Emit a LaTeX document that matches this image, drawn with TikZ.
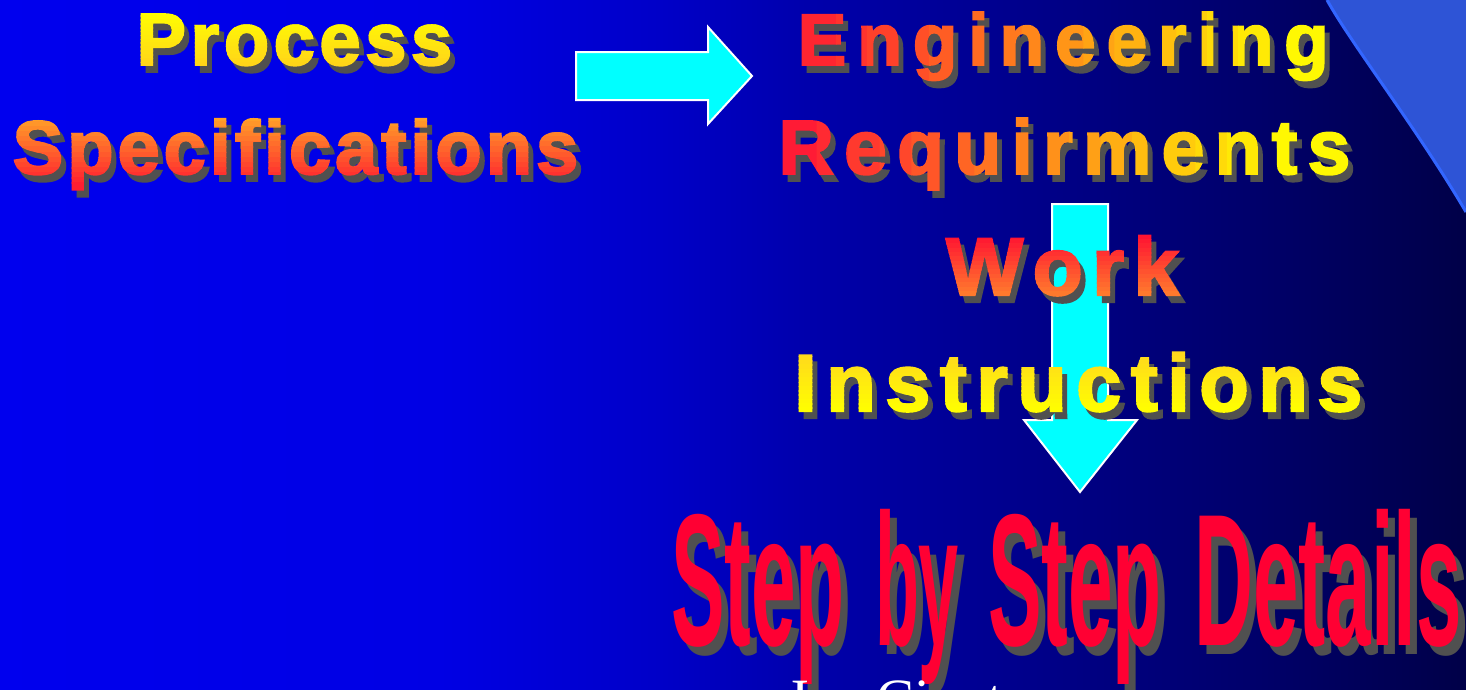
\documentclass[tikz,border=0pt]{standalone}
\usepackage{fontspec}
\setmainfont{Liberation Sans}
\newfontfamily\heavy{Liberation Sans}[BoldFeatures={FakeBold=2.5}]
\newfontfamily\serifname{Liberation Serif}
\usepackage{graphicx}
\usetikzlibrary{calc}
\definecolor{bg0}{RGB}{0,0,238}
\definecolor{bg1}{RGB}{0,0,228}
\definecolor{bg2}{RGB}{0,0,200}
\definecolor{bg3}{RGB}{0,0,172}
\definecolor{bg4}{RGB}{0,0,128}
\definecolor{bg5}{RGB}{0,0,108}
\definecolor{bg6}{RGB}{0,0,72}
\pgfdeclarehorizontalshading{bgsh}{100bp}{color(0bp)=(bg0); color(25bp)=(bg0); color(40bp)=(bg1); color(47.5bp)=(bg2); color(52.5bp)=(bg3); color(62.5bp)=(bg4); color(67.5bp)=(bg5); color(75bp)=(bg6); color(100bp)=(bg6)}
\definecolor{proctop}{RGB}{255,255,0}
\definecolor{procbot}{RGB}{255,212,25}
\definecolor{spectop}{RGB}{255,165,40}
\definecolor{specbot}{RGB}{255,25,48}
\definecolor{engtop}{RGB}{255,30,50}
\definecolor{engbot}{RGB}{255,255,0}
\definecolor{reqtop}{RGB}{255,20,55}
\definecolor{reqbot}{RGB}{255,255,0}
\definecolor{worktop}{RGB}{255,15,50}
\definecolor{workbot}{RGB}{255,125,45}
\definecolor{instop}{RGB}{255,215,30}
\definecolor{insbot}{RGB}{255,255,0}
\definecolor{shadowgray}{RGB}{80,80,80}
\definecolor{bigred}{RGB}{255,0,51}
\definecolor{arrowcyan}{RGB}{0,255,255}
\definecolor{swoosh}{RGB}{46,84,214}
\definecolor{swooshedge}{RGB}{51,102,255}
\makeatletter
\newcommand\trk[2]{\hbox to #1{\@tfor\tch:=#2\do{\tch\hfil}\unskip}}
\makeatother
\newcommand\rbw[2]{\resizebox{#1pt}{\height}{#2}}
\newbox\bxproc
\newbox\bxspec
\newbox\bxeng
\newbox\bxreq
\newbox\bxwork
\newbox\bxins
\newbox\bxbig
\tikzset{
  txt/.style={anchor=base west, inner sep=0pt, outer sep=0pt},
  shd/.style={txt, text=shadowgray},
  blockarrow/.style={fill=arrowcyan, draw=white, line width=2pt, line join=miter},
}
% vertical gradient text: name, content, position, y top, y bottom
\newcommand\vgtext[5]{%
  \node[shd] (#1s) at ($(#3)+(5,7)$) {#2};
  \foreach \i in {0,...,13}{%
    \pgfmathsetmacro\pct{100*(\i+0.5)/14}%
    \pgfmathsetmacro\ya{\i==0 ? -600 : #4+(#5-#4)*\i/14}%
    \pgfmathsetmacro\yb{\i==13 ? 1600 : #4+(#5-#4)*(\i+1)/14+0.6}%
    \begin{scope}
      \clip (-100,\ya) rectangle (1600,\yb);
      \node[txt, text=#1bot!\pct!#1top] (#1\i) at (#3) {#2};
    \end{scope}}}
% horizontal gradient text: name, content, position, x left, x right
\newcommand\hgtext[5]{%
  \node[shd] (#1s) at ($(#3)+(5,7)$) {#2};
  \foreach \i in {0,...,15}{%
    \pgfmathsetmacro\pct{100*(\i+0.5)/16}%
    \pgfmathsetmacro\xa{\i==0 ? -600 : #4+(#5-#4)*\i/16}%
    \pgfmathsetmacro\xb{\i==15 ? 2000 : #4+(#5-#4)*(\i+1)/16+0.6}%
    \begin{scope}
      \clip (\xa,-100) rectangle (\xb,900);
      \node[txt, text=#1bot!\pct!#1top] (#1\i) at (#3) {#2};
    \end{scope}}}
\begin{document}
\setbox\bxproc\hbox{\heavy\fontsize{74}{80}\selectfont\bfseries\trk{315.6pt}{Process}}%
\setbox\bxspec\hbox{\heavy\fontsize{76}{80}\selectfont\bfseries\trk{565.7pt}{Specifications}}%
\setbox\bxeng\hbox{\heavy\fontsize{73}{80}\selectfont\bfseries\trk{531pt}{Engineering}}%
\setbox\bxreq\hbox{\heavy\fontsize{77}{80}\selectfont\bfseries\trk{572pt}{Requirments}}%
\setbox\bxwork\hbox{\heavy\fontsize{82}{90}\selectfont\bfseries\trk{233pt}{Work}}%
\setbox\bxins\hbox{\heavy\fontsize{81}{90}\selectfont\bfseries\trk{568pt}{Instructions}}%
\setbox\bxbig\hbox{\fontsize{188}{190}\selectfont\bfseries
  \rbw{174}{Step}\kern30pt\rbw{84}{by}\kern29pt\rbw{174}{Step}\kern32pt\rbw{268}{Details}}%
\begin{tikzpicture}[x=1pt, y=-1pt]
\clip (0,0) rectangle (1466,689);
\useasboundingbox (0,0) rectangle (1466,689);
% background
\shade[shading=bgsh] (0,0) rectangle (1466,689);
% top right swoosh
\fill[swoosh] (1327,0) .. controls (1352,45) and (1418,130) .. (1466,212) -- (1466,0) -- cycle;
\draw[swooshedge, line width=3pt] (1327,0) .. controls (1352,45) and (1418,130) .. (1466,212);
% block arrows
\draw[blockarrow] (576,52) -- (708,52) -- (708,27) -- (752,76) -- (708,124) -- (708,100) -- (576,100) -- cycle;
\draw[blockarrow] (1052,204) -- (1108,204) -- (1108,420) -- (1137,420) -- (1080,492) -- (1024,420) -- (1052,420) -- cycle;
% texts
\vgtext{proc}{\copy\bxproc}{136.6,65}{12}{66}
\vgtext{spec}{\copy\bxspec}{12.6,174}{116}{188}
\hgtext{eng}{\copy\bxeng}{797.7,65}{805}{1300}
\hgtext{req}{\copy\bxreq}{778.4,174}{785}{1290}
\vgtext{work}{\copy\bxwork}{946,295}{235}{296}
\vgtext{ins}{\copy\bxins}{794.3,411}{352}{412}
\node[shd] (bigs) at (678,654) {\copy\bxbig};
\node[txt, text=bigred] (big) at (671,645) {\copy\bxbig};
\node[txt, text=white, font={\serifname\fontsize{57}{60}\selectfont}] (author) at (786,718) {Joe Cipot};
\end{tikzpicture}
\end{document}
